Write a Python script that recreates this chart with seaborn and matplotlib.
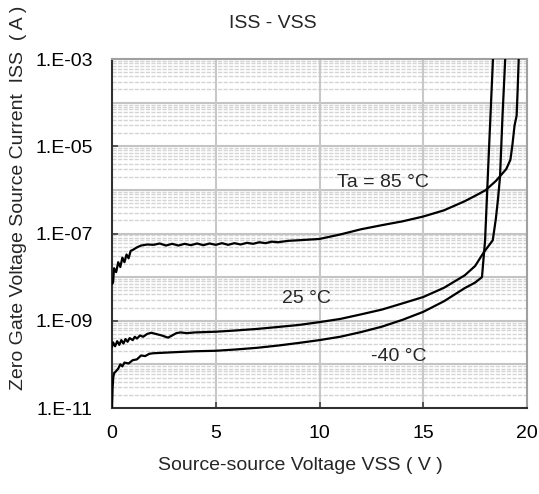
import numpy as np
import pandas as pd
import seaborn as sns
import matplotlib
matplotlib.use("Agg")
import matplotlib.pyplot as plt
from matplotlib.ticker import FixedLocator, NullFormatter, FuncFormatter

# ---- data ----
v_85 = [0.0, 0.05, 0.1, 0.2, 0.3, 0.4, 0.5, 0.6, 0.7, 0.8, 0.9, 1.0, 1.2, 1.4, 1.7,
        2.0, 2.3, 2.6, 2.9, 3.2, 3.5, 3.8, 4.1, 4.4, 4.7, 5.0, 5.3, 5.6, 5.9, 6.2,
        6.5, 6.8, 7.1, 7.4, 7.7, 8.0, 8.5, 9.0, 10.0, 11.0, 12.0, 13.0, 14.0, 15.0,
        16.0, 17.0, 17.5, 18.0, 18.5, 19.0, 19.2, 19.3, 19.4, 19.5, 19.55, 19.6]
i_85 = [7e-9, 7.5e-9, 1.6e-8, 1.3e-8, 2.2e-8, 1.7e-8, 2.8e-8, 2.2e-8, 3.3e-8, 2.7e-8, 4.0e-8,
        4.2e-8, 4.8e-8, 5.3e-8, 5.6e-8,
        5.5e-8, 5.9e-8, 5.3e-8, 5.8e-8, 5.3e-8, 5.8e-8, 5.4e-8, 5.9e-8, 5.4e-8, 5.9e-8,
        5.5e-8, 6.0e-8, 5.5e-8, 6.0e-8, 5.6e-8, 6.1e-8, 5.8e-8, 6.3e-8, 6.0e-8, 6.5e-8,
        6.3e-8, 6.8e-8, 7.0e-8, 7.5e-8, 9.5e-8, 1.25e-7, 1.55e-7, 1.9e-7, 2.45e-7,
        3.4e-7, 5.5e-7, 7.3e-7, 9.8e-7, 1.6e-6, 3.0e-6, 4.9e-6, 1.1e-5, 3.0e-5, 5.0e-5,
        2.0e-4, 1.0e-3]

v_25 = [0.0, 0.05, 0.15, 0.25, 0.35, 0.45, 0.55, 0.65, 0.75, 0.85, 1.0, 1.1, 1.2, 1.35,
        1.5, 1.7, 1.9, 2.1, 2.4, 2.7, 2.9, 3.1, 3.3, 3.6, 4.0, 5.0, 6.0, 7.0, 8.0, 9.0,
        10.0, 11.0, 12.0, 13.0, 14.0, 15.0, 16.0, 17.0, 17.5, 17.9, 18.35, 18.5, 18.6,
        18.7, 18.82, 18.95]
i_25 = [2.5e-10, 3.2e-10, 2.6e-10, 3.4e-10, 2.8e-10, 3.6e-10, 3.0e-10, 3.8e-10, 3.3e-10,
        4.0e-10, 3.6e-10, 4.3e-10, 3.9e-10, 4.6e-10, 4.3e-10, 5.0e-10, 5.3e-10, 5.0e-10,
        4.6e-10, 4.1e-10, 4.6e-10, 5.2e-10, 5.4e-10, 5.2e-10, 5.4e-10, 5.6e-10, 6.0e-10,
        6.5e-10, 7.2e-10, 8.0e-10, 9.3e-10, 1.1e-9, 1.4e-9, 1.8e-9, 2.5e-9, 3.5e-9,
        5.7e-9, 1.1e-8, 1.8e-8, 3.6e-8, 7.0e-8, 2.2e-7, 6.0e-7, 2.0e-6, 5.0e-5, 1.0e-3]

v_m40 = [0.0, 0.03, 0.06, 0.1, 0.2, 0.3, 0.4, 0.5, 0.6, 0.8, 1.0, 1.2, 1.4, 1.6, 1.8,
         2.0, 2.5, 3.0, 3.5, 4.0, 5.0, 6.0, 7.0, 8.0, 9.0, 10.0, 11.0, 12.0, 13.0,
         14.0, 15.0, 16.0, 17.0, 17.5, 17.83, 17.98, 18.17, 18.36]
i_m40 = [1e-11, 3e-11, 5e-11, 6.3e-11, 7e-11, 8e-11, 1.0e-10, 9e-11, 1.1e-10, 1.05e-10,
         1.25e-10, 1.3e-10, 1.6e-10, 1.55e-10, 1.75e-10, 1.8e-10, 1.85e-10, 1.9e-10,
         1.95e-10, 2.0e-10, 2.05e-10, 2.2e-10, 2.4e-10, 2.7e-10, 3.1e-10, 3.6e-10,
         4.3e-10, 5.5e-10, 7.3e-10, 1.05e-9, 1.6e-9, 2.8e-9, 5.6e-9, 7.5e-9, 1.0e-8,
         7.0e-8, 9.0e-6, 1.0e-3]

series_labels = ["Ta = 85 °C", "25 °C", "-40 °C"]
x_ticks = [0, 5, 10, 15, 20]
y_ticks = [1e-11, 1e-9, 1e-7, 1e-5, 1e-3]
y_tick_labels = ["1.E-11", "1.E-09", "1.E-07", "1.E-05", "1.E-03"]

df = pd.concat([
    pd.DataFrame({"V": v_85, "I": i_85, "T": "85"}),
    pd.DataFrame({"V": v_25, "I": i_25, "T": "25"}),
    pd.DataFrame({"V": v_m40, "I": i_m40, "T": "-40"}),
])

sns.set_theme(style="white")
plt.rcParams["font.family"] = ["Liberation Sans", "DejaVu Sans"]
FS = 14

fig = plt.figure(figsize=(5.39, 4.94), dpi=100)
ax = fig.add_axes([112/539, 1-408/494, (527-112)/539, (408-59)/494])

ax.set_yscale("log")
ax.set_xlim(0, 20)
ax.set_ylim(1e-11, 1e-3)

# grid
minor = [m * 10.0**e for e in range(-11, -3) for m in range(2, 10)]
for y in minor:
    ax.axhline(y, color="#d4d4d4", lw=1.0, ls=(0, (3, 1)), zorder=0)
for e in range(-10, -3):
    ax.axhline(10.0**e, color="#c4c4c4", lw=1.5, zorder=0.5)
for x in [5, 10, 15]:
    ax.axvline(x, color="#c8c8c8", lw=1.5, zorder=0.5)

sns.lineplot(data=df, x="V", y="I", hue="T", palette=["black"]*3, lw=1.6,
             legend=False, ax=ax, estimator=None, sort=False, zorder=3)

ax.yaxis.set_major_locator(FixedLocator(y_ticks))
ax.yaxis.set_major_formatter(FuncFormatter(lambda v, p: y_tick_labels[y_ticks.index(v)] if v in y_ticks else ""))
ax.yaxis.set_minor_locator(FixedLocator([]))
ax.yaxis.set_minor_formatter(NullFormatter())
ax.set_xticks(x_ticks)
ax.tick_params(axis="both", direction="in", length=4, width=1.2, color="#404040",
               labelsize=FS, labelcolor="black", left=True, bottom=True)
ax.tick_params(axis="x", pad=12)
ax.tick_params(axis="y", pad=14)

for s in ["left", "bottom"]:
    ax.spines[s].set_color("#303030")
    ax.spines[s].set_linewidth(1.5)
for s in ["top", "right"]:
    ax.spines[s].set_color("#a0a0a0")
    ax.spines[s].set_linewidth(1.5)

ax.set_xlabel("")
ax.set_ylabel("")

ax.text(10.85, 1.45e-6, series_labels[0], fontsize=FS, va="center", ha="left")
ax.text(8.2, 3.2e-9, series_labels[1], fontsize=FS, va="center", ha="left")
ax.text(12.5, 1.5e-10, series_labels[2], fontsize=FS, va="center", ha="left")

fig.text(273/539, 1-24/494, "ISS - VSS", fontsize=FS, ha="center", va="center")
fig.text(300/539, 1-465/494, "Source-source Voltage VSS ( V )", fontsize=FS, ha="center", va="center")
fig.text(19/539, 1-198/494, "Zero Gate Voltage Source Current  ISS  ( A )", fontsize=FS,
         rotation=90, ha="center", va="center")

fig.savefig("out.png", dpi=100)
